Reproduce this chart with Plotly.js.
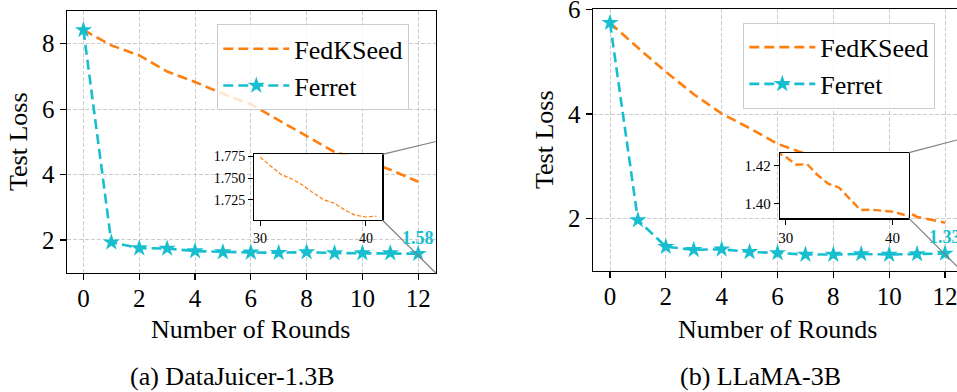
<!DOCTYPE html>
<html>
<head>
<meta charset="utf-8">
<script src="https://cdn.plot.ly/plotly-3.0.1.min.js"></script>
<style>html,body{margin:0;padding:0;background:#fff}#chart{width:957px;height:392px}</style>
</head>
<body>
<div id="chart"></div>
<script>
// ---- data ----
const rounds = [0,1,2,3,4,5,6,7,8,9,10,11,12];
const djFedKSeed = [8.42,7.95,7.64,7.15,6.83,6.47,6.15,5.66,5.17,4.69,4.45,4.15,3.78];
const djFerret   = [8.42,1.93,1.75,1.74,1.66,1.63,1.62,1.61,1.63,1.60,1.60,1.60,1.58];
const llFedKSeed = [5.75,5.27,4.81,4.38,4.01,3.73,3.43,3.24,2.95,2.60,2.32,2.03,1.92];
const llFerret   = [5.75,1.97,1.46,1.40,1.41,1.36,1.34,1.31,1.31,1.32,1.31,1.32,1.33];
const djInsetX = [30,31,32,33,34,35,36,37,38,39,40,41];
const djInsetY = [1.774,1.764,1.754,1.749,1.742,1.733,1.725,1.721,1.713,1.707,1.705,1.706];
const llInsetX = [29,30,31,32,33,34,35,36,37,38,39,40,41,42];
const llInsetY = [1.4275,1.4245,1.4205,1.4208,1.4150,1.4105,1.4085,1.4025,1.3968,1.3970,1.3966,1.3960,1.3945,1.3930];
const seriesNames = ["FedKSeed","Ferret"];
const captions = ["(a) DataJuicer-1.3B","(b) LLaMA-3B"];
const xTitle = "Number of Rounds";
const yTitle = "Test Loss";

// ---- style ----
const ORANGE = "#ff7f0e", CYAN = "#17becf";
const FONT = "Liberation Serif, serif";
const W = 957, H = 392;
const px = v => v / W, py = v => 1 - v / H;

function mainLine(x, y, name, legend, ax) {
  return {x, y, name, type: "scatter", mode: "lines", legend,
    xaxis: ax[0], yaxis: ax[1],
    line: {color: ORANGE, width: 2.6, dash: "10px,5px"}};
}
function ferretLine(x, y, name, legend, ax) {
  return {x, y, name, type: "scatter", mode: "lines+markers", legend,
    xaxis: ax[0], yaxis: ax[1],
    line: {color: CYAN, width: 2.6, dash: "10px,5px"},
    marker: {symbol: "star", size: 13, color: CYAN, line: {width: 0}}};
}

const traces = [
  mainLine(rounds, djFedKSeed, seriesNames[0], "legend", ["x","y"]),
  ferretLine(rounds, djFerret, seriesNames[1], "legend", ["x","y"]),
  mainLine(rounds, llFedKSeed, seriesNames[0], "legend2", ["x2","y2"]),
  ferretLine(rounds, llFerret, seriesNames[1], "legend2", ["x2","y2"]),
  {x: djInsetX, y: djInsetY, type: "scatter", mode: "lines", showlegend: false,
   xaxis: "x3", yaxis: "y3", line: {color: ORANGE, width: 1.2, dash: "4px,2px"}},
  {x: llInsetX, y: llInsetY, type: "scatter", mode: "lines", showlegend: false,
   xaxis: "x4", yaxis: "y4", line: {color: ORANGE, width: 2.4, dash: "8px,4px"}}
];

const tickFont = {family: FONT, size: 25, color: "#000"};
function mainAxis(extra) {
  return Object.assign({
    showline: true, linecolor: "#000", linewidth: 1.2, mirror: true,
    ticks: "outside", ticklen: 6, tickwidth: 1.2, tickcolor: "#000",
    showgrid: true, gridcolor: "#cccccc", gridwidth: 1, griddash: "4px,2px",
    zeroline: false, tickfont: tickFont, automargin: false, fixedrange: true,
    ticklabeloverflow: "allow"
  }, extra);
}
function insetAxis(extra, size) {
  return Object.assign({
    showline: true, linecolor: "#000", linewidth: 1.2, mirror: true,
    ticks: "outside", ticklen: 5, tickwidth: 1, tickcolor: "#000",
    showgrid: false, zeroline: false, automargin: false, fixedrange: true,
    tickfont: {family: FONT, size: size, color: "#000"}, ticklabeloverflow: "allow"
  }, extra);
}

const legendBase = {
  bgcolor: "rgba(255,255,255,0.8)", bordercolor: "#cccccc", borderwidth: 1,
  font: {family: FONT, size: 26, color: "#000"}, itemwidth: 66,
  entrywidth: 150, entrywidthmode: "pixels",
  xanchor: "left", yanchor: "top", tracegroupgap: 0
};

const grayLine = {type: "line", xref: "paper", yref: "paper", line: {color: "#808080", width: 1.2}};

const layout = {
  width: W, height: H,
  margin: {l: 0, r: 0, t: 0, b: 0},
  paper_bgcolor: "#fff", plot_bgcolor: "#fff",
  font: {family: FONT, color: "#000"},
  xaxis: mainAxis({domain: [px(66.7), px(435.5)], range: [-0.6, 12.62], tick0: 0, dtick: 2, anchor: "y", ticklabelstandoff: -3}),
  yaxis: mainAxis({domain: [py(272.7), py(11)], range: [1, 9], tick0: 0, dtick: 2, anchor: "x"}),
  xaxis2: mainAxis({domain: [px(592.7), 1], range: [-0.62, 12.43], tick0: 0, dtick: 2, anchor: "y2", ticklabelstandoff: -3}),
  yaxis2: mainAxis({domain: [py(270.7), py(9)], range: [1, 6.013], tick0: 0, dtick: 2, anchor: "x2", mirror: false}),
  xaxis3: insetAxis({domain: [px(254.3), px(382.3)], range: [29.45, 41.55], tickvals: [30, 40], anchor: "y3"}, 14),
  yaxis3: insetAxis({domain: [py(220), py(154.3)], range: [1.7015, 1.7775], tickvals: [1.725, 1.75, 1.775], tickformat: ".3f", anchor: "x3"}, 14),
  xaxis4: insetAxis({domain: [px(780), px(909)], range: [29.45, 41.55], tickvals: [30, 40], anchor: "y4"}, 15),
  yaxis4: insetAxis({domain: [py(218.3), py(152.7)], range: [1.3925, 1.4268], tickvals: [1.40, 1.42], tickformat: ".2f", anchor: "x4"}, 15),
  legend: Object.assign({}, legendBase, {x: px(217.3), y: py(24.3)}),
  legend2: Object.assign({}, legendBase, {x: px(743.3), y: py(22.7)}),
  shapes: [
    Object.assign({}, grayLine, {x0: px(382.3), y0: py(154.3), x1: px(436), y1: py(141.5)}),
    Object.assign({}, grayLine, {x0: px(382.3), y0: py(220), x1: px(435.5), y1: py(272.7)}),
    Object.assign({}, grayLine, {x0: px(909), y0: py(152.7), x1: px(957), y1: py(140)}),
    Object.assign({}, grayLine, {x0: px(909), y0: py(218.3), x1: px(957), y1: py(266.3)})
  ],
  annotations: [
    {xref: "x", yref: "y", x: rounds[rounds.length-1], y: djFerret[djFerret.length-1],
     text: "<b>" + djFerret[djFerret.length-1].toFixed(2) + "</b>", showarrow: false, yshift: 16,
     font: {family: FONT, size: 18, color: CYAN}},
    {xref: "x2", yref: "y2", x: rounds[rounds.length-1], y: llFerret[llFerret.length-1],
     text: "<b>" + llFerret[llFerret.length-1].toFixed(2) + "</b>", showarrow: false, yshift: 16,
     font: {family: FONT, size: 18, color: CYAN}},
    {xref: "paper", yref: "paper", x: px(250.5), y: py(329), text: xTitle, showarrow: false,
     xanchor: "center", yanchor: "middle", font: {family: FONT, size: 26, color: "#000"}},
    {xref: "paper", yref: "paper", x: px(777), y: py(329), text: xTitle, showarrow: false,
     xanchor: "center", yanchor: "middle", font: {family: FONT, size: 26, color: "#000"}},
    {xref: "paper", yref: "paper", x: px(18), y: py(142), text: yTitle, showarrow: false, textangle: -90,
     xanchor: "center", yanchor: "middle", font: {family: FONT, size: 26, color: "#000"}},
    {xref: "paper", yref: "paper", x: px(544), y: py(140), text: yTitle, showarrow: false, textangle: -90,
     xanchor: "center", yanchor: "middle", font: {family: FONT, size: 26, color: "#000"}},
    {xref: "paper", yref: "paper", x: px(232.7), y: py(376.7), text: captions[0], showarrow: false,
     xanchor: "center", yanchor: "middle", font: {family: FONT, size: 26, color: "#000"}},
    {xref: "paper", yref: "paper", x: px(760), y: py(376.7), text: captions[1], showarrow: false,
     xanchor: "center", yanchor: "middle", font: {family: FONT, size: 26, color: "#000"}}
  ]
};

Plotly.newPlot("chart", traces, layout, {staticPlot: true, displayModeBar: false});
</script>
</body>
</html>
